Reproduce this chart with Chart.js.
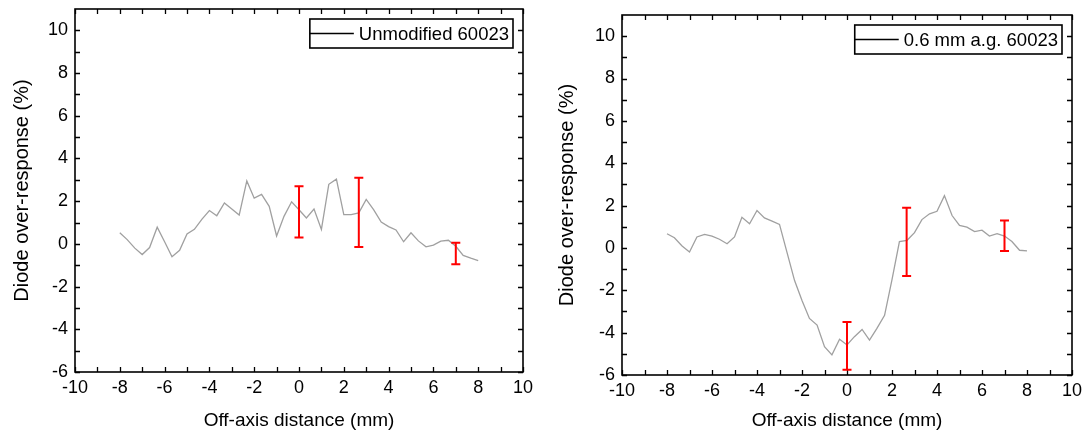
<!DOCTYPE html>
<html>
<head>
<meta charset="utf-8">
<script src="https://cdn.jsdelivr.net/npm/chart.js@4.4.1/dist/chart.umd.min.js"></script>
<style>
  html, body { margin: 0; padding: 0; background: #fff; }
  .panel { position: absolute; top: 0; height: 432px; }
  #left { left: 0; width: 545px; }
  #right { left: 545px; width: 544px; }
</style>
</head>
<body>
<div class="panel" id="left"><canvas id="chartLeft"></canvas></div>
<div class="panel" id="right"><canvas id="chartRight"></canvas></div>
<script>
// off-axis positions (mm)
const distance = [-8, -7.67, -7.33, -7, -6.67, -6.33, -6, -5.67, -5.33, -5, -4.67, -4.33, -4,
  -3.67, -3.33, -3, -2.67, -2.33, -2, -1.67, -1.33, -1, -0.67, -0.33, 0, 0.33, 0.67, 1,
  1.33, 1.67, 2, 2.33, 2.67, 3, 3.33, 3.67, 4, 4.33, 4.67, 5, 5.33, 5.67, 6, 6.33, 6.67,
  7, 7.33, 7.67, 8];

// diode over-response (%)
const unmodified = [0.52, 0.2, -0.2, -0.5, -0.17, 0.78, 0.1, -0.6, -0.3, 0.46, 0.68, 1.16, 1.56,
  1.32, 1.92, 1.63, 1.35, 2.95, 2.14, 2.32, 1.76, 0.37, 1.29, 1.97, 1.6, 1.21, 1.63, 0.68,
  2.79, 3.03, 1.37, 1.37, 1.45, 2.08, 1.6, 1.02, 0.81, 0.65, 0.1, 0.52, 0.14, -0.14, -0.06,
  0.13, 0.17, -0.11, -0.54, -0.67, -0.78];
const airGap = [0.67, 0.48, 0.09, -0.19, 0.52, 0.64, 0.56, 0.41, 0.2, 0.52, 1.45, 1.14, 1.77,
  1.42, 1.27, 1.11, -0.2, -1.54, -2.48, -3.33, -3.64, -4.66, -5.05, -4.31, -4.58, -4.19, -3.85,
  -4.35, -3.8, -3.18, -1.5, 0.3, 0.36, 0.72, 1.34, 1.61, 1.73, 2.47, 1.53, 1.06, 0.98, 0.77,
  0.84, 0.56, 0.67, 0.56, 0.3, -0.11, -0.14];

// uncertainty bars
const errDistLeft = [0, 2.67, 7];
const errLowLeft = [0.3, -0.15, -0.95];
const errHighLeft = [2.7, 3.1, 0.05];
const errDistRight = [0, 2.65, 7];
const errLowRight = [-5.75, -1.33, -0.14];
const errHighRight = [-3.5, 1.9, 1.3];

const FONT = '"Liberation Sans", Arial, sans-serif';

function panelPlugin(errX, errLo, errHi) {
  return {
    id: 'panelDecor',
    afterDatasetsDraw(chart) {
      const { ctx, chartArea: a, scales: { x, y } } = chart;
      ctx.save();
      // inward ticks on all four sides
      ctx.strokeStyle = '#000';
      ctx.lineWidth = 1.3;
      ctx.beginPath();
      for (let v = x.min; v <= x.max; v++) {
        const px = Math.round(x.getPixelForValue(v)) + 0.5;
        ctx.moveTo(px, a.bottom); ctx.lineTo(px, a.bottom - 5);
        ctx.moveTo(px, a.top); ctx.lineTo(px, a.top + 5);
      }
      for (let v = y.min; v <= 10; v++) {
        const py = Math.round(y.getPixelForValue(v)) + 0.5;
        ctx.moveTo(a.left, py); ctx.lineTo(a.left + 5, py);
        ctx.moveTo(a.right, py); ctx.lineTo(a.right - 5, py);
      }
      ctx.stroke();
      // frame
      ctx.lineWidth = 1.6;
      ctx.strokeRect(a.left, a.top, a.right - a.left, a.bottom - a.top);

      // error bars
      ctx.strokeStyle = '#ff0000';
      ctx.lineWidth = 2;
      ctx.beginPath();
      errX.forEach((v, i) => {
        const px = x.getPixelForValue(v);
        const top = y.getPixelForValue(errHi[i]);
        const bot = y.getPixelForValue(errLo[i]);
        ctx.moveTo(px, top); ctx.lineTo(px, bot);
        ctx.moveTo(px - 4.5, top); ctx.lineTo(px + 4.5, top);
        ctx.moveTo(px - 4.5, bot); ctx.lineTo(px + 4.5, bot);
      });
      ctx.stroke();

      // legend box
      const label = chart.data.datasets[0].label;
      ctx.font = '18.5px ' + FONT;
      const tw = ctx.measureText(label).width;
      const lineLen = 44;
      const w = lineLen + 5 + tw + 4;
      const h = 29;
      const bx = a.right - 10 - w;
      const by = a.top + 10;
      ctx.fillStyle = '#fff';
      ctx.fillRect(bx, by, w, h);
      ctx.strokeStyle = '#000';
      ctx.lineWidth = 1.6;
      ctx.strokeRect(bx, by, w, h);
      ctx.lineWidth = 1.3;
      ctx.beginPath();
      ctx.moveTo(bx, by + h / 2); ctx.lineTo(bx + lineLen, by + h / 2);
      ctx.stroke();
      ctx.fillStyle = '#000';
      ctx.textBaseline = 'middle';
      ctx.textAlign = 'left';
      ctx.fillText(label, bx + lineLen + 5, by + h / 2 + 1);
      ctx.restore();
    }
  };
}

function buildChart(id, label, values, errX, errLo, errHi, pad, yWidth, xHeight) {
  return new Chart(document.getElementById(id), {
    type: 'line',
    data: {
      datasets: [{
        label: label,
        data: distance.map((d, i) => ({ x: d, y: values[i] })),
        borderColor: 'rgb(160,160,160)',
        borderWidth: 1.3,
        pointRadius: 0,
        tension: 0,
        fill: false
      }]
    },
    options: {
      responsive: true,
      maintainAspectRatio: false,
      animation: false,
      layout: { padding: { top: pad.top, right: pad.right, left: 0, bottom: 0 } },
      plugins: { legend: { display: false }, tooltip: { enabled: false } },
      scales: {
        x: {
          type: 'linear',
          min: -10, max: 10,
          grid: { display: false, drawTicks: false },
          border: { display: false },
          ticks: { stepSize: 2, autoSkip: false, maxRotation: 0, padding: 5, color: '#000', font: { family: FONT, size: 18 } },
          title: { display: true, text: 'Off-axis distance (mm)', color: '#000', padding: { top: 4, bottom: 0 }, font: { family: FONT, size: 19 } },
          afterFit(s) { s.height = xHeight; s.paddingLeft = 0; s.paddingRight = 0; }
        },
        y: {
          min: -6, max: 11,
          grid: { display: false, drawTicks: false },
          border: { display: false },
          ticks: { stepSize: 2, includeBounds: false, autoSkip: false, padding: 7, color: '#000', font: { family: FONT, size: 18 } },
          title: { display: true, text: 'Diode over-response (%)', color: '#000', padding: { top: 10, bottom: 0 }, font: { family: FONT, size: 20 } },
          afterFit(s) { s.width = yWidth; s.paddingTop = 0; s.paddingBottom = 0; }
        }
      }
    },
    plugins: [panelPlugin(errX, errLo, errHi)]
  });
}

buildChart('chartLeft', 'Unmodified 60023', unmodified, errDistLeft, errLowLeft, errHighLeft,
  { top: 9, right: 22 }, 75, 60);
buildChart('chartRight', '0.6 mm a.g. 60023', airGap, errDistRight, errLowRight, errHighRight,
  { top: 15, right: 17 }, 77, 57);
</script>
</body>
</html>
